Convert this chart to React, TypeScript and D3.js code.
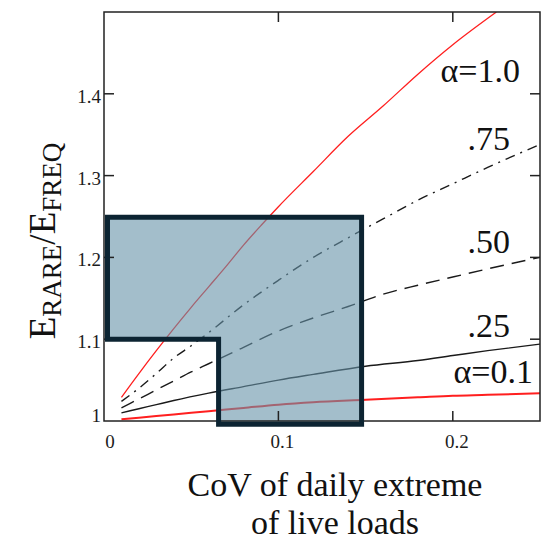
import React from "react";
import * as d3 from "d3";

// Ratio of rare to frequent load effect vs. CoV of daily extreme live load
const cov10 = [0.01, 0.02, 0.03, 0.04, 0.05, 0.06, 0.07, 0.08, 0.09, 0.1, 0.12, 0.14, 0.16, 0.18, 0.2, 0.225];
const ratio10 = [1.029, 1.058, 1.086, 1.113, 1.139, 1.164, 1.189, 1.215, 1.239, 1.262, 1.305, 1.348, 1.385, 1.424, 1.46, 1.5];

const cov075 = [0.01, 0.02, 0.03, 0.04, 0.05, 0.06, 0.08, 0.1, 0.12, 0.14, 0.16, 0.18, 0.2, 0.22, 0.25];
const ratio075 = [1.024, 1.04, 1.058, 1.077, 1.092, 1.108, 1.142, 1.172, 1.2, 1.224, 1.247, 1.27, 1.29, 1.31, 1.338];

const cov050 = [0.01, 0.02, 0.03, 0.04, 0.05, 0.06, 0.08, 0.1, 0.12, 0.14, 0.16, 0.18, 0.2, 0.22, 0.25];
const ratio050 = [1.016, 1.027, 1.038, 1.049, 1.06, 1.07, 1.09, 1.11, 1.126, 1.14, 1.155, 1.166, 1.176, 1.186, 1.2];

const cov025 = [0.01, 0.02, 0.03, 0.04, 0.06, 0.08, 0.1, 0.12, 0.15, 0.18, 0.2, 0.22, 0.25];
const ratio025 = [1.01, 1.015, 1.02, 1.025, 1.034, 1.042, 1.05, 1.057, 1.067, 1.074, 1.08, 1.086, 1.094];

const cov01 = [0.01, 0.02, 0.04, 0.06, 0.08, 0.1, 0.12, 0.15, 0.18, 0.2, 0.22, 0.25];
const ratio01 = [1.002, 1.004, 1.008, 1.012, 1.016, 1.02, 1.023, 1.026, 1.029, 1.031, 1.032, 1.034];

// Highlighted region (L-shaped)
const regionCov = [0.002, 0.002, 0.1477, 0.1477, 0.0657, 0.0657];
const regionRatio = [1.1, 1.249, 1.249, 0.996, 0.996, 1.1];

const yTicks = [1, 1.1, 1.2, 1.3, 1.4];
const yTickLabels = ["1", "1.1", "1.2", "1.3", "1.4"];
const xTicks = [0, 0.1, 0.2];
const xTickLabels = ["0", "0.1", "0.2"];

const curveLabels = ["α=1.0", ".75", ".50", ".25", "α=0.1"];

const W = 546;
const H = 546;
const left = 104;
const right = 540;
const top = 12;
const bottom = 421;
const serif = "'Liberation Serif', 'Times New Roman', serif";

export default function App() {
  const x = d3.scaleLinear().domain([0, 0.25]).range([left, right]);
  const y = d3.scaleLinear().domain([1, 1.5]).range([bottom, top]);

  const line = d3
    .line<[number, number]>()
    .x((d) => x(d[0]))
    .y((d) => y(d[1]))
    .curve(d3.curveMonotoneX);

  const zip = (a: number[], b: number[]) => a.map((v, i) => [v, b[i]] as [number, number]);

  const series = [
    { d: zip(cov10, ratio10), color: "#ff1f1f", width: 1.3, dash: "none" },
    { d: zip(cov075, ratio075), color: "#1a1a1a", width: 1.4, dash: "10,6,2,6" },
    { d: zip(cov050, ratio050), color: "#1a1a1a", width: 1.4, dash: "14,8" },
    { d: zip(cov025, ratio025), color: "#1a1a1a", width: 1.4, dash: "none" },
    { d: zip(cov01, ratio01), color: "#ff1f1f", width: 2, dash: "none" },
  ];

  const region = zip(regionCov, regionRatio);
  const regionPath = "M" + region.map((p) => `${x(p[0])},${y(p[1])}`).join("L") + "Z";

  const labelPos = [
    { x: 520, y: 82 },
    { x: 510, y: 150 },
    { x: 510, y: 253 },
    { x: 510, y: 337 },
    { x: 533, y: 383 },
  ];

  return (
    <svg
      width={W}
      height={H}
      style={{ position: "absolute", left: 0, top: 0, background: "#fff" }}
    >
      <defs>
        <clipPath id="plotClip">
          <rect x={left} y={top} width={right - left} height={bottom - top} />
        </clipPath>
      </defs>

      <g clipPath="url(#plotClip)">
        {series.map((s, i) => (
          <path
            key={i}
            d={line(s.d) || ""}
            fill="none"
            stroke={s.color}
            strokeWidth={s.width}
            strokeDasharray={s.dash}
          />
        ))}
      </g>

      {/* shaded region over the curves */}
      <path d={regionPath} fill="rgb(102,147,168)" fillOpacity={0.6} stroke="none" />

      {/* frame */}
      <rect x={left} y={top} width={right - left} height={bottom - top} fill="none" stroke="#222" strokeWidth={1.5} />

      {/* ticks */}
      {yTicks.filter((t) => t > 1).map((t) => (
        <g key={"yt" + t}>
          <line x1={left} x2={left + 10} y1={y(t)} y2={y(t)} stroke="#222" strokeWidth={1.5} />
          <line x1={right} x2={right - 10} y1={y(t)} y2={y(t)} stroke="#222" strokeWidth={1.5} />
        </g>
      ))}
      {xTicks.filter((t) => t > 0).map((t) => (
        <g key={"xt" + t}>
          <line x1={x(t)} x2={x(t)} y1={top} y2={top + 10} stroke="#222" strokeWidth={1.5} />
          <line x1={x(t)} x2={x(t)} y1={bottom} y2={bottom - 10} stroke="#222" strokeWidth={1.5} />
        </g>
      ))}

      {/* region outline */}
      <path d={regionPath} fill="none" stroke="#0c2432" strokeWidth={5} strokeLinejoin="miter" />

      {/* tick labels */}
      {yTicks.map((t, i) => (
        <text
          key={"yl" + t}
          x={101}
          y={Math.min(y(t) + 9, bottom + 1)}
          textAnchor="end"
          fontFamily={serif}
          fontSize={19}
          fill="#1c1c1c"
        >
          {yTickLabels[i]}
        </text>
      ))}
      {xTicks.map((t, i) => (
        <text
          key={"xl" + t}
          x={x(t) + (t === 0 ? 6 : 4)}
          y={448}
          textAnchor="middle"
          fontFamily={serif}
          fontSize={19}
          fill="#1c1c1c"
        >
          {xTickLabels[i]}
        </text>
      ))}

      {/* curve labels */}
      {curveLabels.map((t, i) => (
        <text
          key={"cl" + i}
          x={labelPos[i].x}
          y={labelPos[i].y}
          textAnchor="end"
          fontFamily={serif}
          fontSize={34}
          fill="#111"
        >
          {t}
        </text>
      ))}

      {/* axis titles */}
      <text x={335} y={496} textAnchor="middle" fontFamily={serif} fontSize={34} fill="#111">
        CoV of daily extreme
      </text>
      <text x={335} y={534} textAnchor="middle" fontFamily={serif} fontSize={34} fill="#111">
        of live loads
      </text>

      <text
        transform="translate(55,241) rotate(-90)"
        textAnchor="middle"
        fontFamily={serif}
        fontSize={37}
        fill="#111"
      >
        <tspan>E</tspan>
        <tspan fontSize={27} dy={6}>RARE</tspan>
        <tspan dy={-6}>/E</tspan>
        <tspan fontSize={27} dy={6}>FREQ</tspan>
      </text>
    </svg>
  );
}
